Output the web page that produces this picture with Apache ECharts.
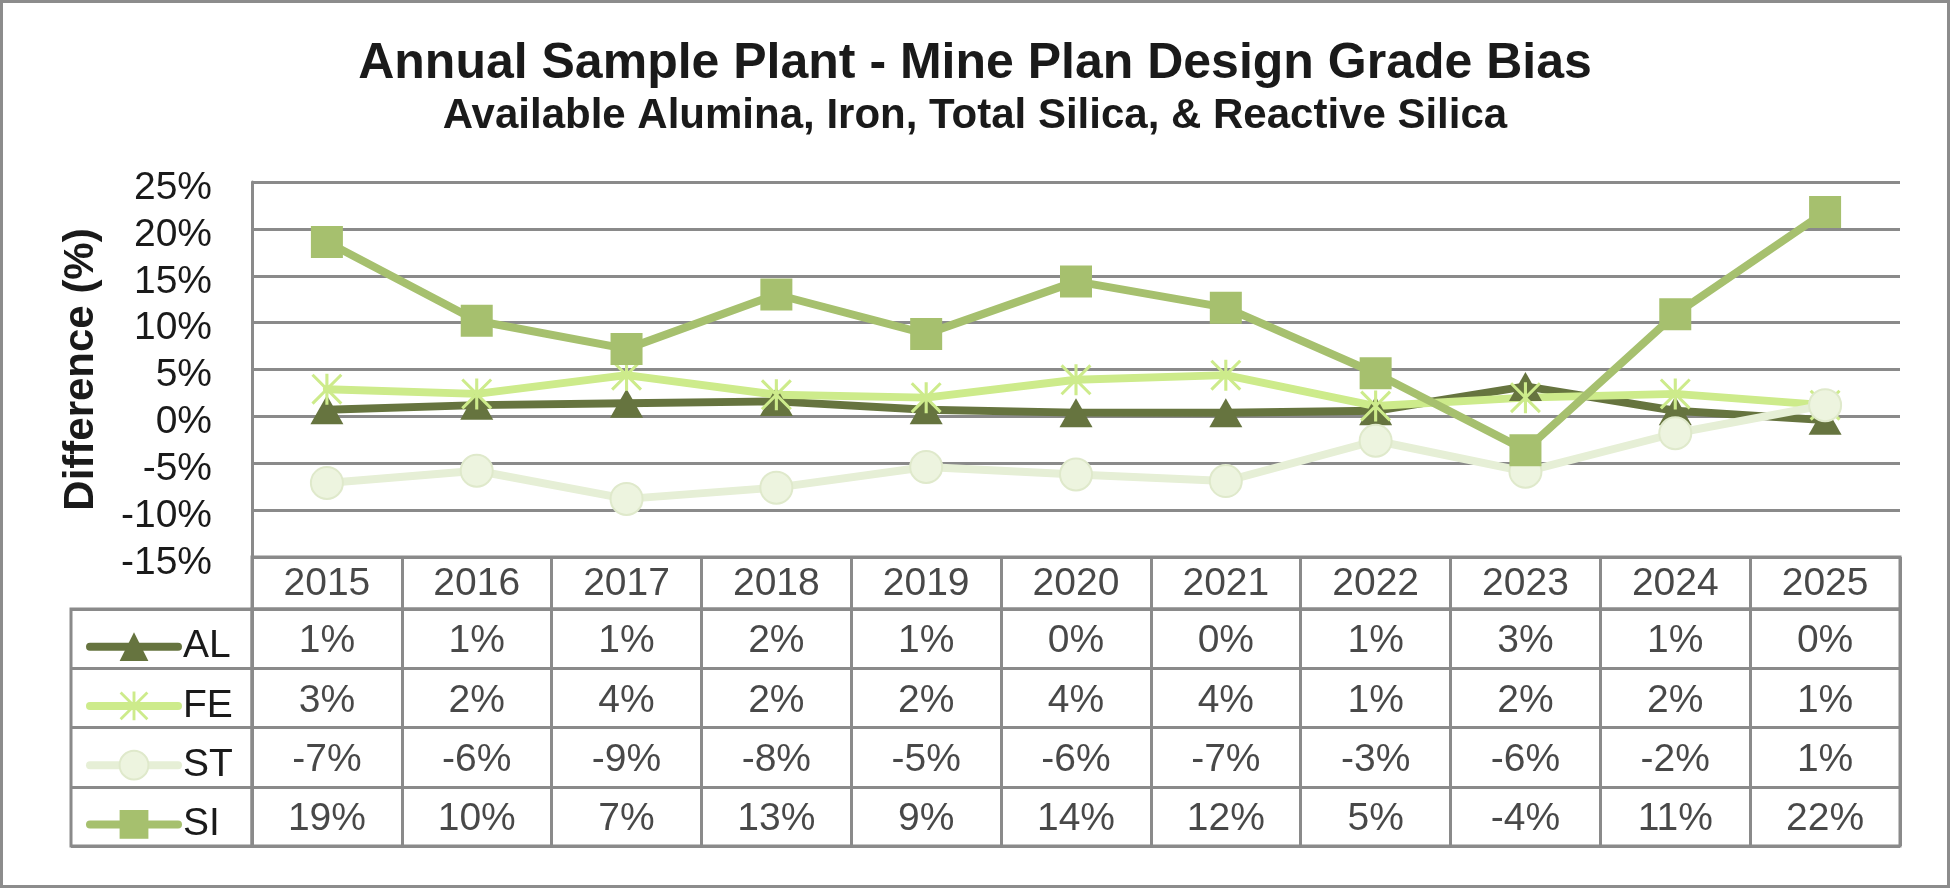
<!DOCTYPE html>
<html>
<head>
<meta charset="utf-8">
<script src="https://cdn.jsdelivr.net/npm/echarts@6.0.0/dist/echarts.min.js"></script>
<style>
html,body{margin:0;padding:0;background:#fff;}
#c{width:1950px;height:888px;}
</style>
</head>
<body>
<div id="c"></div>
<script>
// ---- data ----
const years = ['2015','2016','2017','2018','2019','2020','2021','2022','2023','2024','2025'];
const seriesNames = ['AL','FE','ST','SI'];
const AL = [0.7, 1.2, 1.4, 1.6, 0.7, 0.4, 0.4, 0.6, 3.2, 0.6, -0.4];
const FE = [2.9, 2.4, 4.4, 2.3, 2.0, 3.9, 4.4, 1.1, 2.0, 2.4, 1.2];
const ST = [-7.1, -5.8, -8.8, -7.6, -5.4, -6.2, -6.9, -2.6, -5.9, -1.8, 1.2];
const SI = [18.6, 10.2, 7.2, 13.0, 8.8, 14.4, 11.6, 4.6, -3.6, 10.9, 21.8];
const yMin = -15, yMax = 25, yStep = 5;
const titleText = 'Annual Sample Plant - Mine Plan Design Grade Bias';
const subtitleText = 'Available Alumina, Iron, Total Silica, & Reactive Silica';
const yName = 'Difference (%)';

// ---- styles ----
const FONT = '"Liberation Sans", Arial, sans-serif';
const TXT = '#1a1a1a';
const GRID = '#8a8a8a';
const colors = { AL: '#66743F', FE: '#CDEB8B', ST: '#E6EFD6', SI: '#A6C06E' };
const asterisk = 'path://M45,0H55V100H45Z M0,7L7,0L100,93L93,100Z M93,0L100,7L7,100L0,93Z';

const valuesByName = { AL: AL, FE: FE, ST: ST, SI: SI };
const fmt = v => Math.round(v) + '%';

const headerCells = years.map((y, i) => [i, 0, y]);
const bodyCells = [];
seriesNames.forEach((n, r) => {
  valuesByName[n].forEach((v, c) => bodyCells.push([c, r, fmt(v)]));
});

function lineSeries(name, symbol, size, itemStyle) {
  return {
    name: name, type: 'line', xAxisIndex: 0, yAxisIndex: 0,
    data: valuesByName[name],
    symbol: symbol, symbolSize: size, showAllSymbol: true,
    lineStyle: { color: colors[name], width: 8, cap: 'round', join: 'round' },
    itemStyle: itemStyle,
    emphasis: { disabled: true },
    silent: true
  };
}

function cellLabel(dy) {
  return {
    show: true, position: 'inside', fontSize: 39, color: TXT, fontFamily: FONT,
    offset: [0, dy], formatter: p => p.data[2]
  };
}

// table geometry
const tblTop = 557, hdrH = 52, rowH = 59.25;
const bodyTop = tblTop + hdrH, bodyH = rowH * 4;
const legItemH = 44;

const chart = echarts.init(document.getElementById('c'));
chart.setOption({
  animation: false,
  backgroundColor: '#ffffff',
  textStyle: { fontFamily: FONT },
  title: [
    { text: titleText, left: 'center', top: 29,
      textStyle: { fontSize: 50, fontWeight: 'bold', color: TXT, fontFamily: FONT, lineHeight: 60 } },
    { text: subtitleText, left: 'center', top: 87,
      textStyle: { fontSize: 42, fontWeight: 'bold', color: TXT, fontFamily: FONT, lineHeight: 48 } }
  ],
  graphic: [{
    type: 'rect', silent: true,
    shape: { x: 1.5, y: 1.5, width: 1947, height: 885 },
    style: { fill: 'none', stroke: '#8c8c8c', lineWidth: 3 }
  }],
  legend: {
    orient: 'vertical', left: 81, top: bodyTop + (rowH - legItemH) / 2 + 3,
    itemWidth: 88, itemHeight: 36, itemGap: rowH - legItemH,
    selectedMode: false,
    data: seriesNames,
    lineStyle: { width: 8, cap: 'round' },
    textStyle: { fontSize: 39, color: TXT, fontFamily: FONT, lineHeight: legItemH }
  },
  grid: [
    { left: 252, right: 50, top: 182, height: tblTop - 182 },
    { left: 252, right: 50, top: tblTop, height: hdrH, show: true, borderColor: GRID, borderWidth: 3 },
    { left: 252, right: 50, top: bodyTop, height: bodyH, show: true, borderColor: GRID, borderWidth: 3 },
    { left: 71, width: 181, top: bodyTop, height: bodyH, show: true, borderColor: GRID, borderWidth: 3 }
  ],
  xAxis: [
    { type: 'category', gridIndex: 0, data: years, boundaryGap: true,
      axisLine: { show: false }, axisTick: { show: false }, axisLabel: { show: false }, splitLine: { show: false } },
    { type: 'category', gridIndex: 1, data: years, boundaryGap: true,
      axisLine: { show: false }, axisTick: { show: false }, axisLabel: { show: false },
      splitLine: { show: true, interval: 0, lineStyle: { color: GRID, width: 3 } } },
    { type: 'category', gridIndex: 2, data: years, boundaryGap: true,
      axisLine: { show: false }, axisTick: { show: false }, axisLabel: { show: false },
      splitLine: { show: true, interval: 0, lineStyle: { color: GRID, width: 3 } } },
    { type: 'value', gridIndex: 3, min: 0, max: 1, show: false }
  ],
  yAxis: [
    { type: 'value', gridIndex: 0, min: yMin, max: yMax, interval: yStep,
      axisLine: { show: true, lineStyle: { color: GRID, width: 3 } },
      axisTick: { show: false },
      axisLabel: { formatter: '{value}%', fontSize: 39, color: TXT, margin: 40, fontFamily: FONT,
                   verticalAlign: 'top', lineHeight: 12 },
      splitLine: { show: true, lineStyle: { color: GRID, width: 3 } },
      name: yName, nameLocation: 'middle', nameRotate: 90, nameGap: 150,
      nameTextStyle: { fontSize: 42, fontWeight: 'bold', color: TXT, fontFamily: FONT } },
    { type: 'category', gridIndex: 1, data: ['Year'],
      axisLine: { show: false }, axisTick: { show: false }, axisLabel: { show: false }, splitLine: { show: false } },
    { type: 'category', gridIndex: 2, data: seriesNames, inverse: true,
      axisLine: { show: false }, axisTick: { show: false }, axisLabel: { show: false },
      splitLine: { show: true, interval: 0, lineStyle: { color: GRID, width: 3 } } },
    { type: 'category', gridIndex: 3, data: seriesNames, inverse: true,
      axisLine: { show: false }, axisTick: { show: false }, axisLabel: { show: false },
      splitLine: { show: true, interval: 0, lineStyle: { color: GRID, width: 3 } } }
  ],
  series: [
    lineSeries('AL', 'triangle', [33, 29], { color: colors.AL }),
    lineSeries('FE', asterisk, 31, { color: colors.FE }),
    lineSeries('ST', 'circle', 32, { color: '#EDF4DF', borderColor: '#DFE9CB', borderWidth: 2 }),
    lineSeries('SI', 'rect', 32, { color: colors.SI }),
    { type: 'scatter', xAxisIndex: 1, yAxisIndex: 1, data: headerCells, symbolSize: 1,
      itemStyle: { color: 'rgba(0,0,0,0)' }, label: cellLabel(1), silent: true },
    { type: 'scatter', xAxisIndex: 2, yAxisIndex: 2, data: bodyCells, symbolSize: 1,
      itemStyle: { color: 'rgba(0,0,0,0)' }, label: cellLabel(3), silent: true }
  ]
});
</script>
</body>
</html>
